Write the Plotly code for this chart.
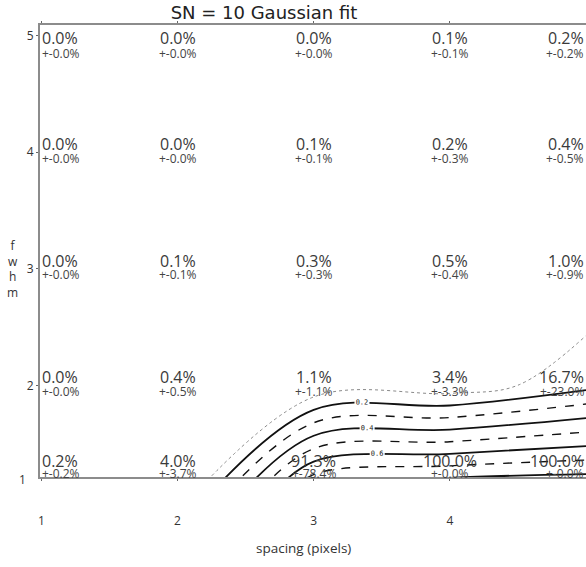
import plotly.graph_objects as go

# ---- data -------------------------------------------------------------
spacing = [1, 2, 3, 4, 5]          # x: spacing (pixels)
fwhm = [1, 2, 3, 4, 5]             # y: fwhm

# detection percentage, one row per fwhm value (fwhm = 1 .. 5)
pct_fwhm1 = [0.2, 4.0, 91.3, 100.0, 100.0]
pct_fwhm2 = [0.0, 0.4, 1.1, 3.4, 16.7]
pct_fwhm3 = [0.0, 0.1, 0.3, 0.5, 1.0]
pct_fwhm4 = [0.0, 0.0, 0.1, 0.2, 0.4]
pct_fwhm5 = [0.0, 0.0, 0.0, 0.1, 0.2]

# +- uncertainty, one row per fwhm value
err_fwhm1 = [0.2, 3.7, 78.4, 0.0, 0.0]
err_fwhm2 = [0.0, 0.5, 1.1, 3.3, 23.0]
err_fwhm3 = [0.0, 0.1, 0.3, 0.4, 0.9]
err_fwhm4 = [0.0, 0.0, 0.1, 0.3, 0.5]
err_fwhm5 = [0.0, 0.0, 0.0, 0.1, 0.2]

x_tick_labels = ["1", "2", "3", "4", "5"]
y_tick_labels = ["1", "2", "3", "4", "5"]

contour_levels_dotted = [0.1]
contour_levels_solid = [0.2, 0.4, 0.6, 0.8]
contour_levels_dashed = [0.3, 0.5, 0.7]

title_text = "SN = 10 Gaussian fit"
x_title = "spacing (pixels)"
y_title = "f<br>w<br>h<br>m"

# ---- build ------------------------------------------------------------
pct = [pct_fwhm1, pct_fwhm2, pct_fwhm3, pct_fwhm4, pct_fwhm5]
err = [err_fwhm1, err_fwhm2, err_fwhm3, err_fwhm4, err_fwhm5]
z = [[v / 100.0 for v in row] for row in pct]

FONT = "Open Sans"
fig = go.Figure()


def add_level(level, color, width, dash, labels):
    fig.add_trace(go.Contour(
        x=spacing, y=fwhm, z=z,
        autocontour=False,
        contours=dict(start=level, end=level, size=0.1, coloring="none",
                      showlabels=labels,
                      labelfont=dict(size=7, color="#222", family="DejaVu Sans Mono"),
                      labelformat=".1f"),
        colorscale=[[0, color], [1, color]],
        line=dict(color=color, width=width, dash=dash, smoothing=1.0),
        showscale=False, hoverinfo="skip",
    ))


for lv in contour_levels_dotted:
    add_level(lv, "#8a8a8a", 1, "dot", False)
for lv in contour_levels_dashed:
    add_level(lv, "#111111", 1.4, "dash", False)
for lv in contour_levels_solid:
    add_level(lv, "#111111", 1.8, "solid", True)

annotations = []
nx, ny = len(spacing), len(fwhm)
for j, fw in enumerate(fwhm):
    for i, sp in enumerate(spacing):
        big = f"{pct[j][i]:.1f}%"
        small = f"+-{err[j][i]:.1f}%"
        if i == 0:
            hx = dict(xref="x domain", x=0, xanchor="left")
        elif i == nx - 1:
            hx = dict(xref="x domain", x=1, xanchor="right")
        else:
            hx = dict(xref="x", x=sp, xanchor="center")
        if j == 0:
            vb = dict(yref="y domain", y=0, yanchor="bottom", yshift=3)
            vs = dict(yref="y domain", y=0, yanchor="bottom", yshift=-7)
        elif j == ny - 1:
            vb = dict(yref="y domain", y=1, yanchor="top", yshift=0)
            vs = dict(yref="y domain", y=1, yanchor="top", yshift=-18)
        else:
            vb = dict(yref="y", y=fw, yanchor="middle", yshift=8)
            vs = dict(yref="y", y=fw, yanchor="middle", yshift=-6)
        annotations.append(dict(text=big, showarrow=False,
                                font=dict(family=FONT, size=16, color="#3a3a3a"),
                                **hx, **vb))
        annotations.append(dict(text=small, showarrow=False,
                                font=dict(family=FONT, size=12, color="#444444"),
                                **hx, **vs))

# y tick "1" sits at the bottom edge of the clipped axis
annotations.append(dict(text=y_tick_labels[0], showarrow=False, xref="paper", x=-0.022,
                        xanchor="right", yref="y domain", y=0, yanchor="middle", yshift=-2,
                        font=dict(family=FONT, size=12, color="#333")))
# axis titles
annotations.append(dict(text=x_title, showarrow=False, xref="paper", x=0.4817,
                        xanchor="center", yref="paper", y=-0.157, yanchor="middle",
                        font=dict(family=FONT, size=13.5, color="#333")))
annotations.append(dict(text=y_title, showarrow=False, xref="paper", x=-0.0495,
                        xanchor="center", yref="paper", y=0.46, yanchor="middle",
                        font=dict(family=FONT, size=12, color="#333")))

fig.update_layout(
    width=586, height=567,
    margin=dict(l=40, r=0, t=25, b=90),
    paper_bgcolor="white", plot_bgcolor="white",
    font=dict(family=FONT, size=12, color="#333"),
    showlegend=False,
    title=dict(text=title_text, x=264 / 586, xref="container", xanchor="center",
               y=1 - 13 / 567, yref="container", yanchor="middle",
               font=dict(family="DejaVu Sans", size=18, color="#222")),
    annotations=annotations,
)
fig.update_xaxes(range=[0.99, 5.0], tickvals=spacing, ticktext=x_tick_labels,
                 showgrid=False, zeroline=False, showline=True, linecolor="#8c8c8c",
                 linewidth=2, mirror="ticks", ticks="outside", ticklen=2, tickcolor="#666",
                 ticklabelstandoff=30, automargin=False,
                 tickfont=dict(family=FONT, size=12, color="#333"))
fig.update_yaxes(range=[1.215, 5.09], tickvals=fwhm[1:], ticktext=y_tick_labels[1:],
                 showgrid=False, zeroline=False, showline=True, linecolor="#8c8c8c",
                 linewidth=2, ticks="outside", ticklen=2, tickcolor="#666",
                 automargin=False,
                 tickfont=dict(family=FONT, size=12, color="#333"))

# remove the browser's default body margin so the figure fills the window exactly
fig.write_html("out.html",
               config={"displayModeBar": False},
               post_script="document.body.style.margin='0';document.body.style.overflow='hidden';")
